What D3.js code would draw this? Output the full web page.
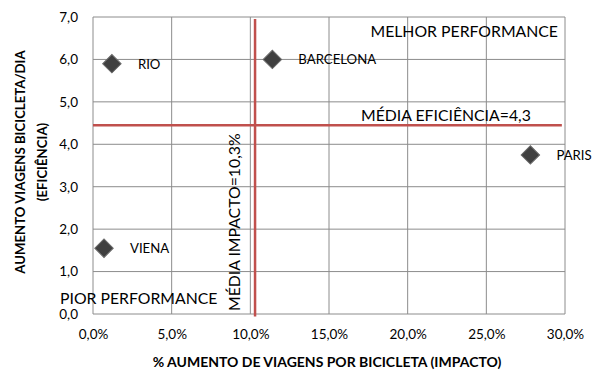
<!DOCTYPE html>
<html>
<head>
<meta charset="utf-8">
<script src="https://cdn.jsdelivr.net/npm/d3@7"></script>
<style>
  body { margin: 0; background: #fff; }
  text { font-family: Lato, "Open Sans", sans-serif; fill: #000; }
</style>
</head>
<body>
<script>
// cities and values
const cities = ['RIO', 'BARCELONA', 'PARIS', 'VIENA'];
const impacto = [1.2, 11.4, 27.8, 0.7];      // % aumento de viagens
const eficiencia = [5.9, 6.0, 3.75, 1.55];   // aumento viagens/dia
const xTicks = [0, 5, 10, 15, 20, 25, 30];
const yTicks = [0, 1, 2, 3, 4, 5, 6, 7];
const mediaImpacto = 10.3;
const mediaEficiencia = 4.45;

const width = 595, height = 372;
const margin = { top: 17, right: 30, bottom: 58, left: 93 };

const x = d3.scaleLinear().domain([0, 30]).range([margin.left, width - margin.right]);
const y = d3.scaleLinear().domain([0, 7]).range([height - margin.bottom, margin.top]);

const fmt = d => d.toFixed(1).replace('.', ',');

const svg = d3.select('body').append('svg')
    .attr('width', width)
    .attr('height', height);

// grid
const grid = svg.append('g').attr('stroke', '#8c8c8c').attr('stroke-width', 1);
grid.selectAll('.gx').data(xTicks).join('line')
    .attr('x1', d => x(d)).attr('x2', d => x(d))
    .attr('y1', y(0)).attr('y2', y(7));
grid.selectAll('.gy').data(yTicks).join('line')
    .attr('x1', x(0)).attr('x2', x(30))
    .attr('y1', d => y(d)).attr('y2', d => y(d));

// axes (labels only)
const xAxis = d3.axisBottom(x).tickValues(xTicks).tickFormat(d => fmt(d) + '%').tickSize(0).tickPadding(15);
const yAxis = d3.axisLeft(y).tickValues(yTicks).tickFormat(fmt).tickSize(0).tickPadding(15);

svg.append('g')
    .attr('transform', `translate(0,${y(0)})`)
    .call(xAxis)
    .call(g => g.select('.domain').remove())
    .selectAll('text').attr('font-size', 13.5).attr('font-family', 'Lato, sans-serif');

svg.append('g')
    .attr('transform', `translate(${x(0)},0)`)
    .call(yAxis)
    .call(g => g.select('.domain').remove())
    .selectAll('text').attr('font-size', 13.5).attr('font-family', 'Lato, sans-serif');

// average lines
svg.append('line')
    .attr('x1', x(mediaImpacto)).attr('x2', x(mediaImpacto))
    .attr('y1', y(6.95)).attr('y2', y(-0.06))
    .attr('stroke', '#c0504d').attr('stroke-width', 2.5);
svg.append('line')
    .attr('x1', x(0)).attr('x2', x(29.8))
    .attr('y1', y(mediaEficiencia)).attr('y2', y(mediaEficiencia))
    .attr('stroke', '#c0504d').attr('stroke-width', 2.5);

// quadrant texts
svg.append('text').attr('x', 558).attr('y', 37).attr('text-anchor', 'end')
    .attr('font-size', 15.8).text('MELHOR PERFORMANCE');
svg.append('text').attr('x', 361).attr('y', 121)
    .attr('font-size', 15.8).text('MÉDIA EFICIÊNCIA=4,3');
svg.append('text').attr('x', 60).attr('y', 304)
    .attr('font-size', 15.8).text('PIOR PERFORMANCE');
svg.append('text')
    .attr('transform', 'translate(240,311) rotate(-90)')
    .attr('font-size', 15.8).text('MÉDIA IMPACTO=10,3%');

// points
const pts = cities.map((c, i) => ({ city: c, x: impacto[i], y: eficiencia[i] }));
svg.selectAll('.pt').data(pts).join('path')
    .attr('d', d3.symbol(d3.symbolSquare, 170))
    .attr('transform', d => `translate(${x(d.x)},${y(d.y)}) rotate(45)`)
    .attr('fill', '#404040')
    .attr('stroke', '#6a6a6a').attr('stroke-width', 1);

svg.selectAll('.lbl').data(pts).join('text')
    .attr('x', d => x(d.x) + 26)
    .attr('y', d => y(d.y) + 5)
    .attr('font-size', 13.2)
    .text(d => d.city);

// axis titles
svg.append('text')
    .attr('x', 327).attr('y', 367).attr('text-anchor', 'middle')
    .attr('font-size', 14).attr('font-weight', 'bold')
    .text('% AUMENTO DE VIAGENS POR BICICLETA (IMPACTO)');

const yt = svg.append('text')
    .attr('transform', 'translate(25,162) rotate(-90)')
    .attr('text-anchor', 'middle')
    .attr('font-size', 13.2).attr('font-weight', 'bold');
yt.append('tspan').attr('x', 0).attr('dy', 0).text('AUMENTO VIAGENS BICICLETA/DIA');
yt.append('tspan').attr('x', 0).attr('dy', 22).text('(EFICIÊNCIA)');
</script>
</body>
</html>
